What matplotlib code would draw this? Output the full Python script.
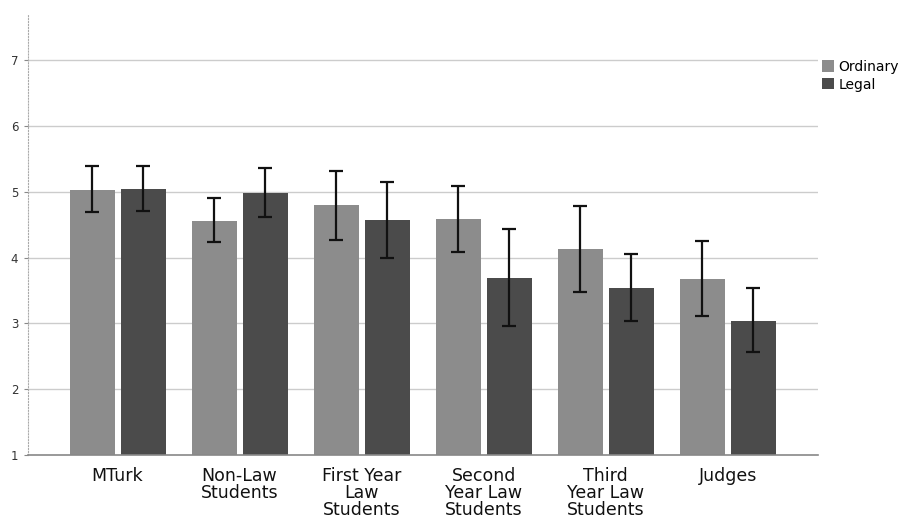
import matplotlib
matplotlib.use("Agg")
import matplotlib.pyplot as plt
import numpy as np

categories = ["MTurk", "Non-Law\nStudents", "First Year\nLaw\nStudents",
              "Second\nYear Law\nStudents", "Third\nYear Law\nStudents", "Judges"]
ordinary = [5.03, 4.56, 4.80, 4.59, 4.13, 3.67]
ordinary_hi = [5.40, 4.90, 5.32, 5.09, 4.78, 4.26]
ordinary_lo = [4.70, 4.24, 4.27, 4.09, 3.48, 3.11]
legal = [5.05, 4.98, 4.57, 3.69, 3.54, 3.03]
legal_hi = [5.40, 5.36, 5.15, 4.44, 4.06, 3.54]
legal_lo = [4.71, 4.62, 3.99, 2.96, 3.03, 2.56]
yticks = [1, 2, 3, 4, 5, 6, 7]

plt.rcParams['font.family'] = ['DejaVu Sans']
fig = plt.figure(figsize=(9.18, 5.29), dpi=100)
ax = fig.add_axes([0.0305, 0.140, 0.8605, 0.8316])

x = np.arange(len(categories))
w = 0.369
off = 0.209
c_ord = "#8c8c8c"
c_leg = "#4b4b4b"

for yv in yticks[1:]:
    ax.axhline(yv, color="#cccccc", lw=1.0, zorder=0)

o = np.array(ordinary); l = np.array(legal)
ax.bar(x - off, o, w, bottom=0, color=c_ord, label="Ordinary", zorder=2)
ax.bar(x + off, l, w, bottom=0, color=c_leg, label="Legal", zorder=2)
ax.errorbar(x - off, o, yerr=[o - np.array(ordinary_lo), np.array(ordinary_hi) - o],
            fmt="none", ecolor="#111111", elinewidth=1.6, capsize=5, capthick=1.6, zorder=3)
ax.errorbar(x + off, l, yerr=[l - np.array(legal_lo), np.array(legal_hi) - l],
            fmt="none", ecolor="#111111", elinewidth=1.6, capsize=5, capthick=1.6, zorder=3)

ax.set_xlim(-0.734, 5.74)
ax.set_ylim(1, 7.69)
ax.set_yticks(yticks)
ax.set_yticklabels([str(v) for v in yticks], fontsize=8.5, color="#333333")
ax.set_xticks(x)
ax.set_xticklabels(categories, fontsize=12.5, linespacing=0.92, color="#111111")
ax.tick_params(axis="x", length=0, pad=9)
ax.tick_params(axis="y", length=3, pad=4, color="#888888")

for s in ["top", "right"]:
    ax.spines[s].set_visible(False)
ax.spines["left"].set_color("#aaaaaa")
ax.spines["left"].set_linestyle(":")
ax.spines["bottom"].set_color("#888888")
ax.spines["bottom"].set_linewidth(1.2)

fig.legend(loc="upper left", bbox_to_anchor=(0.889, 0.897), frameon=False,
           fontsize=10, handlelength=0.9, handleheight=0.9, handletextpad=0.3,
           labelspacing=0.25, borderaxespad=0)

fig.savefig("out.png", dpi=100)
